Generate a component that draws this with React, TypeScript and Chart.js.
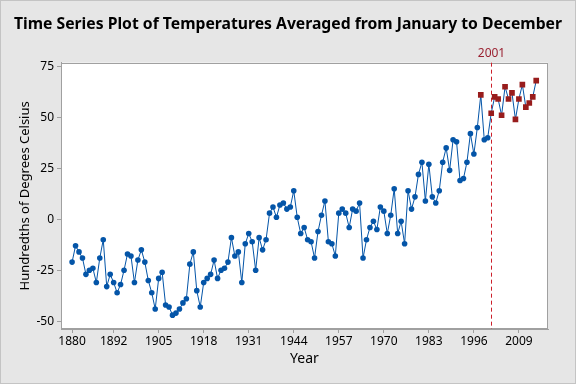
import React, { useEffect, useRef } from "react";
import { Chart, registerables } from "chart.js";

Chart.register(...registerables);

const firstYear = 1880;
const temps: number[] = [
  -21, -13, -16, -19, -27, -25, -24, -31, -19, -10,
  -33, -27, -31, -36, -32, -25, -17, -18, -31, -20,
  -15, -21, -30, -36, -44, -29, -26, -42, -43, -47,
  -46, -44, -41, -39, -22, -16, -35, -43, -31, -29,
  -27, -20, -29, -25, -24, -21, -9, -18, -16, -31,
  -12, -7, -11, -25, -9, -15, -10, 3, 6, 1,
  7, 8, 5, 6, 14, 1, -7, -4, -10, -11,
  -19, -6, 2, 9, -11, -12, -18, 3, 5, 3,
  -4, 5, 4, 8, -19, -10, -4, -1, -5, 6,
  4, -7, 2, 15, -7, -1, -12, 14, 5, 11,
  22, 28, 9, 27, 11, 8, 14, 28, 35, 24,
  39, 38, 19, 20, 28, 42, 32, 45, 61, 39,
  40, 52, 60, 59, 51, 65, 59, 62, 49, 59,
  66, 55, 57, 60, 68,
];
const years: number[] = temps.map((_, i) => firstYear + i);
const highlightYears: number[] = [
  1998, 2001, 2002, 2003, 2004, 2005, 2006, 2007, 2008, 2009, 2010, 2011, 2012, 2013, 2014,
];
const xTickYears: number[] = [1880, 1892, 1905, 1918, 1931, 1944, 1957, 1970, 1983, 1996, 2009];
const yTickValues: number[] = [-50, -25, 0, 25, 50, 75];
const markerYear = 2001;
const markerLabel = "2001";

const FONT = "'Noto Sans', 'Open Sans', sans-serif";
const BLUE = "#0455a8";
const RED = "#981c1c";

export default function App() {
  const ref = useRef<HTMLCanvasElement | null>(null);

  useEffect(() => {
    document.body.style.margin = "0";
    const canvas = ref.current;
    if (!canvas) return;

    const bgPlugin = {
      id: "bgPlugin",
      beforeDraw(chart: any) {
        const { ctx, chartArea } = chart;
        ctx.save();
        ctx.fillStyle = "#e6e6e6";
        ctx.fillRect(0, 0, chart.width, chart.height);
        ctx.strokeStyle = "#c4c4c4";
        ctx.lineWidth = 1;
        ctx.strokeRect(0.5, 0.5, chart.width - 1, chart.height - 1);
        ctx.fillStyle = "#ffffff";
        ctx.fillRect(chartArea.left, chartArea.top, chartArea.right - chartArea.left, chartArea.bottom - chartArea.top);
        ctx.restore();
      },
      beforeDatasetsDraw(chart: any) {
        const { ctx, chartArea, scales } = chart;
        ctx.save();
        ctx.strokeStyle = "#a0a0a0";
        ctx.lineWidth = 1;
        ctx.strokeRect(
          Math.round(chartArea.left) + 0.5,
          Math.round(chartArea.top) + 0.5,
          Math.round(chartArea.right - chartArea.left) - 1,
          Math.round(chartArea.bottom - chartArea.top) - 1
        );
        const x = Math.round(scales.x.getPixelForValue(markerYear)) + 0.5;
        ctx.strokeStyle = "#cc1f2a";
        ctx.setLineDash([4, 3]);
        ctx.beginPath();
        ctx.moveTo(x, chartArea.top);
        ctx.lineTo(x, chartArea.bottom);
        ctx.stroke();
        ctx.setLineDash([]);
        ctx.fillStyle = "#9a2030";
        ctx.font = `12px ${FONT}`;
        ctx.textAlign = "center";
        ctx.textBaseline = "middle";
        ctx.fillText(markerLabel, x, 54);
        ctx.restore();
      },
    };

    const isHi = (i: number) => highlightYears.includes(years[i]);

    const chart = new Chart(canvas, {
      type: "line",
      data: {
        datasets: [
          {
            data: years.map((y, i) => ({ x: y, y: temps[i] })),
            borderColor: BLUE,
            borderWidth: 1,
            tension: 0,
            pointStyle: (c: any) => (isHi(c.dataIndex) ? "rect" : "circle"),
            pointRadius: (c: any) => (isHi(c.dataIndex) ? 4 : 2.8),
            pointBackgroundColor: (c: any) => (isHi(c.dataIndex) ? RED : BLUE),
            pointBorderColor: (c: any) => (isHi(c.dataIndex) ? RED : BLUE),
            pointBorderWidth: 0,
          } as any,
        ],
      },
      options: {
        animation: false,
        responsive: false,
        maintainAspectRatio: false,
        layout: { padding: { left: 14, right: 14, top: 0, bottom: 0 } },
        plugins: {
          legend: { display: false },
          tooltip: { enabled: false },
          title: {
            display: true,
            text: "Time Series Plot of Temperatures Averaged from January to December",
            color: "#000000",
            font: { family: FONT, size: 15.8, weight: "bold", lineHeight: 1.2 },
            padding: { top: 15, bottom: 28.7 },
          },
        },
        scales: {
          x: {
            type: "linear",
            min: 1876.8,
            max: 2017.4,
            afterBuildTicks: (s: any) => {
              s.ticks = xTickYears.map((v) => ({ value: v }));
            },
            afterFit: (s: any) => {
              s.height = 55;
            },
            grid: { drawOnChartArea: false, drawTicks: true, tickLength: 4, color: "#a0a0a0" },
            border: { display: true, color: "#a0a0a0" },
            ticks: {
              color: "#000000",
              font: { family: FONT, size: 12 },
              padding: 1,
              maxRotation: 0,
              autoSkip: false,
              callback: (v: any) => String(v),
            },
            title: {
              display: true,
              text: "Year",
              color: "#000000",
              font: { family: FONT, size: 14 },
              padding: { top: 0, bottom: 17 },
            },
          },
          y: {
            type: "linear",
            min: -53.8,
            max: 76.8,
            afterBuildTicks: (s: any) => {
              s.ticks = yTickValues.map((v) => ({ value: v }));
            },
            afterFit: (s: any) => {
              s.width = 47;
            },
            grid: { drawOnChartArea: false, drawTicks: true, tickLength: 4, color: "#a0a0a0" },
            border: { display: true, color: "#a0a0a0" },
            ticks: {
              color: "#000000",
              font: { family: FONT, size: 12 },
              padding: 3,
            },
            title: {
              display: true,
              text: "Hundredths of Degrees Celsius",
              color: "#000000",
              font: { family: FONT, size: 13 },
              padding: { top: 3, bottom: 0 },
            },
          },
          yRightSpacer: {
            type: "linear",
            position: "right",
            display: true,
            min: 0,
            max: 1,
            afterFit: (s: any) => {
              s.width = 14;
            },
            grid: { display: false, drawTicks: false },
            border: { display: false },
            ticks: { display: false },
          },
        },
      },
      plugins: [bgPlugin],
    } as any);

    return () => chart.destroy();
  }, []);

  return (
    <div style={{ width: 576, height: 384 }}>
      <canvas ref={ref} width={576} height={384} />
    </div>
  );
}
